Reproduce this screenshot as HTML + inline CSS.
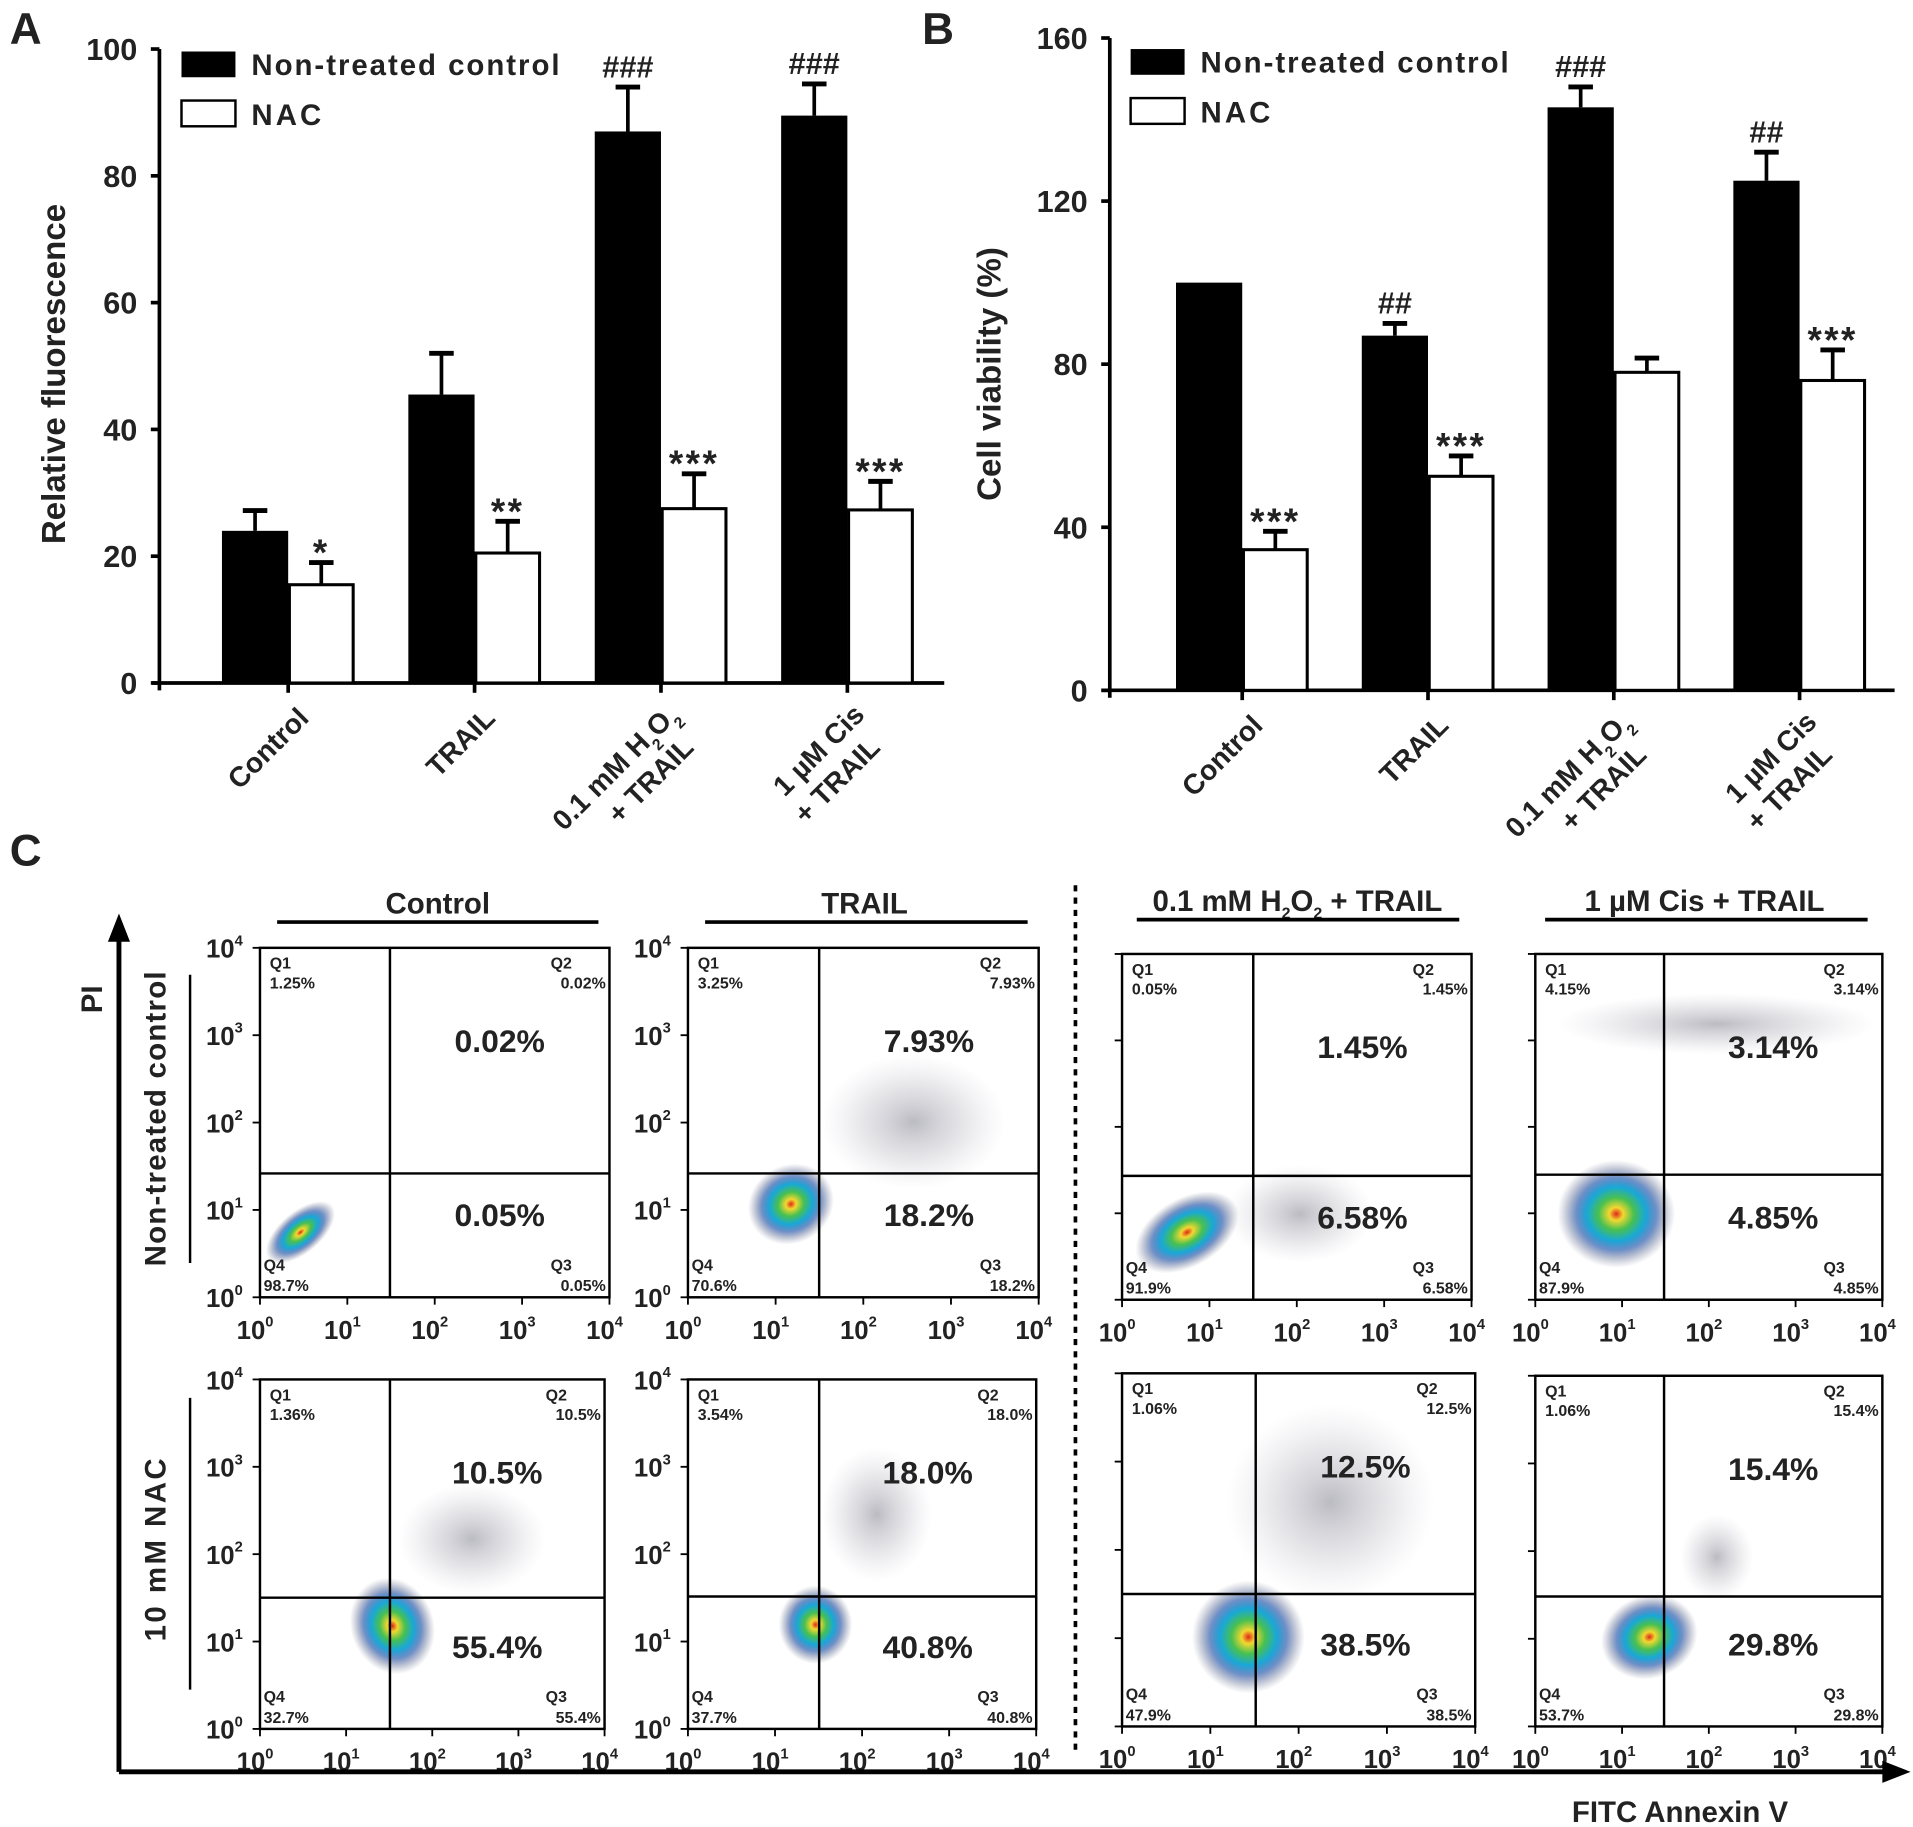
<!DOCTYPE html>
<html><head><meta charset="utf-8">
<style>
html,body{margin:0;padding:0;background:#fff;}
svg{display:block;font-family:"Liberation Sans Narrow","Liberation Sans",Arial,sans-serif;}
text{font-weight:bold;fill:#222;}
</style></head>
<body>
<svg id="fig" width="1913" height="1827" viewBox="0 0 1560 1490" preserveAspectRatio="none" xmlns="http://www.w3.org/2000/svg">
<defs>
<radialGradient id="dens" cx="50%" cy="50%" r="50%">
<stop offset="0" stop-color="#e02818"/>
<stop offset="0.12" stop-color="#f2d830"/>
<stop offset="0.3" stop-color="#48c050"/>
<stop offset="0.5" stop-color="#18a8d8"/>
<stop offset="0.68" stop-color="#3060b0" stop-opacity="0.7"/>
<stop offset="0.85" stop-color="#405080" stop-opacity="0.3"/>
<stop offset="1" stop-color="#606880" stop-opacity="0"/>
</radialGradient>
<radialGradient id="haze" cx="50%" cy="50%" r="50%">
<stop offset="0" stop-color="#556" stop-opacity="0.4"/>
<stop offset="0.6" stop-color="#889" stop-opacity="0.18"/>
<stop offset="1" stop-color="#aab" stop-opacity="0"/>
</radialGradient>
</defs>
<g id="root"></g>
</svg>
<script>
// ---- Panel A data ----
const catsA = ["Control","TRAIL","0.1 mM H2O2 + TRAIL","1 µM Cis + TRAIL"];
const ctrlA = [24, 45.5, 87, 89.5];
const ctrlErrA = [3.2, 6.5, 7, 5];
const nacA = [15.5, 20.5, 27.5, 27.3];
const nacErrA = [3.5, 5, 5.5, 4.5];
const sigCtrlA = ["", "", "###", "###"];
const sigNacA = ["*", "**", "***", "***"];
const ticksA = [0, 20, 40, 60, 80, 100];
// ---- Panel B data ----
const ctrlB = [100, 87, 143, 125];
const ctrlErrB = [0, 3, 5, 7];
const nacB = [34.5, 52.5, 78, 76];
const nacErrB = [4.5, 5, 3.5, 7.5];
const sigCtrlB = ["", "##", "###", "##"];
const sigNacB = ["***", "***", "", "***"];
const ticksB = [0, 40, 80, 120, 160];
// ---- Panel C data (quadrant %: Q1,Q2,Q3,Q4) ----
const q1Vals = ["1.25%","3.25%","0.05%","4.15%","1.36%","3.54%","1.06%","1.06%"];
const q2Vals = ["0.02%","7.93%","1.45%","3.14%","10.5%","18.0%","12.5%","15.4%"];
const q3Vals = ["0.05%","18.2%","6.58%","4.85%","55.4%","40.8%","38.5%","29.8%"];
const q4Vals = ["98.7%","70.6%","91.9%","87.9%","32.7%","37.7%","47.9%","53.7%"];
const colTitles = ["Control","TRAIL","0.1 mM H₂O₂ + TRAIL","1 µM Cis + TRAIL"];
const decades = [0,1,2,3,4];

const NS="http://www.w3.org/2000/svg";
const root=document.getElementById('root');
function mk(tag,attrs,parent){const e=document.createElementNS(NS,tag);for(const k in attrs)e.setAttribute(k,attrs[k]);(parent||root).appendChild(e);return e;}
function txt(s,attrs,parent){const e=mk('text',attrs,parent);e.textContent=s;return e;}

function barPanel(o){
  const g=mk('g',{});
  
  
  const y=v=>o.y0-(v-0)*(o.y0-o.yTop)/o.vmax;
  const cx=i=>o.c0+i*o.step;
  const ya=mk('line',{x1:o.ax,y1:o.yTop,x2:o.ax,y2:o.y0+6,stroke:'#000','stroke-width':3},g);
  
  
  const xa=mk('line',{x1:o.ax-6,y1:o.y0,x2:o.xEnd,y2:o.y0,stroke:'#000','stroke-width':3},g);
  
  
  o.ticks.forEach(t=>{
    mk('line',{x1:o.ax-7,y1:y(t),x2:o.ax,y2:y(t),stroke:'#000','stroke-width':3},g);
    const tl=txt(String(t),{x:o.ax-18,y:y(t)+9,'text-anchor':'end','font-size':25},g);
    
    
  });
  const bw=o.bw;
  o.ctrl.forEach((v,i)=>{
    const x=cx(i);
    mk('line',{x1:x,y1:o.y0,x2:x,y2:o.y0+8,stroke:'#000','stroke-width':3},g);
    const t1=o.ctrl[i]+o.ctrlErr[i], t2=o.nac[i]+o.nacErr[i];
    if(o.ctrlErr[i]>0){
      mk('line',{x1:x-bw/2,y1:y(v),x2:x-bw/2,y2:y(t1),stroke:'#000','stroke-width':3},g);
      mk('line',{x1:x-bw/2-10,y1:y(t1),x2:x-bw/2+10,y2:y(t1),stroke:'#000','stroke-width':4},g);
    }
    const b=mk('rect',{x:x-bw,y:y(v),width:bw,height:o.y0-y(v),fill:'#000'},g);
    
    
    mk('line',{x1:x+bw/2,y1:y(o.nac[i]),x2:x+bw/2,y2:y(t2),stroke:'#000','stroke-width':3},g);
    mk('line',{x1:x+bw/2-10,y1:y(t2),x2:x+bw/2+10,y2:y(t2),stroke:'#000','stroke-width':4},g);
    const b2=mk('rect',{x:x+1,y:y(o.nac[i]),width:bw-2,height:o.y0-y(o.nac[i]),fill:'#fff',stroke:'#000','stroke-width':2.5},g);
    
    
    if(o.sigC[i]){const s=txt(o.sigC[i],{x:x-bw/2,y:y(t1)-8,'text-anchor':'middle','font-size':25,'font-weight':'normal'},g);
      
      }
    if(o.sigN[i]){const s=txt(o.sigN[i],{x:x+bw/2,y:y(t2)+2,'text-anchor':'middle','font-size':30,'font-weight':'normal','letter-spacing':2},g);
      
      }
    const lg=mk('g',{transform:`translate(${x+18},${o.y0+30}) rotate(-45)`},g);
    
    
    if(i<2){txt(o.cats[i],{x:0,y:0,'text-anchor':'end','font-size':23},lg);}
    else if(i==2){
      const a=txt('',{x:0,y:-4,'text-anchor':'end','font-size':23},lg);
      a.innerHTML='0.1 mM H<tspan font-size="13" dy="8">2</tspan><tspan dy="-8">O</tspan><tspan font-size="13" dy="8">2</tspan>';
      txt('+ TRAIL',{x:-10,y:24,'text-anchor':'end','font-size':23},lg);
    } else {
      txt('1 µM Cis',{x:0,y:-4,'text-anchor':'end','font-size':23},lg);
      txt('+ TRAIL',{x:-10,y:24,'text-anchor':'end','font-size':23},lg);
    }
  });
  const l1=mk('rect',{x:o.lx,y:o.ly,width:44,height:21,fill:'#000'},g);
  
  
  const lt1=txt('Non-treated control',{x:o.lx+57,y:o.ly+19,'font-size':24,'letter-spacing':1.6},g);
  
  
  const l2=mk('rect',{x:o.lx,y:o.ly+40,width:44,height:21,fill:'#fff',stroke:'#000','stroke-width':2},g);
  
  
  const lt2=txt('NAC',{x:o.lx+57,y:o.ly+60,'font-size':24,'letter-spacing':2.5},g);
  
  
  const yt=txt(o.ytitle,{x:0,y:0,'text-anchor':'middle','font-size':27,transform:`translate(${o.ytx},${o.yty}) rotate(-90)`,'font-family':'Liberation Sans, Arial, sans-serif'},g);
  
  
}

barPanel({name:'panel-a-chart',ax:130,yTop:40,y0:557,vmax:100,xEnd:770,c0:235,step:152,bw:54,
  ctrl:ctrlA,ctrlErr:ctrlErrA,nac:nacA,nacErr:nacErrA,sigC:sigCtrlA,sigN:sigNacA,ticks:ticksA,cats:catsA,
  lx:148,ly:42,ytitle:'Relative fluorescence',ytx:53,yty:305});
barPanel({name:'panel-b-chart',ax:905,yTop:31,y0:563,vmax:160,xEnd:1545,c0:1013,step:151.5,bw:54,
  ctrl:ctrlB,ctrlErr:ctrlErrB,nac:nacB,nacErr:nacErrB,sigC:sigCtrlB,sigN:sigNacB,ticks:ticksB,cats:catsA,
  lx:922,ly:40,ytitle:'Cell viability (%)',ytx:816,yty:305});

[['A',8,36],['B',752,36],['C',8,706]].forEach(p=>{
  const t=txt(p[0],{x:p[1],y:p[2],'font-size':36,'font-family':'Liberation Sans, Arial, sans-serif'});
  
  
});

const plots=[
 {x0:212,x1:497,y0:773,y1:1058,gx:318,gy:957,yl:true,blob:[245,1005,34,17,-40],hz:null},
 {x0:561,x1:847,y0:773,y1:1058,gx:668,gy:957,yl:true,blob:[645,982,36,32,-30],hz:[745,915,75,55]},
 {x0:915,x1:1200,y0:778,y1:1060,gx:1022,gy:959,yl:false,blob:[968,1005,46,28,-30],hz:[1060,990,60,40]},
 {x0:1252,x1:1535,y0:778,y1:1060,gx:1357,gy:958,yl:false,blob:[1318,990,48,44,0],hz:[1400,835,130,25]},
 {x0:212,x1:493,y0:1125,y1:1410,gx:318,gy:1303,yl:true,blob:[320,1326,34,40,-20],hz:[385,1255,60,45]},
 {x0:561,x1:845,y0:1125,y1:1410,gx:668,gy:1302,yl:true,blob:[665,1325,30,32,0],hz:[715,1235,45,55]},
 {x0:915,x1:1203,y0:1120,y1:1408,gx:1024,gy:1300,yl:false,blob:[1018,1335,46,46,0],hz:[1085,1225,85,80]},
 {x0:1252,x1:1535,y0:1122,y1:1408,gx:1357,gy:1302,yl:false,blob:[1345,1335,40,34,-20],hz:[1400,1270,30,35]},
];
plots.forEach((p,i)=>{
  const g=mk('g',{});
  
  
  if(p.hz){mk('ellipse',{cx:p.hz[0],cy:p.hz[1],rx:p.hz[2],ry:p.hz[3],fill:'url(#haze)'},g);}
  const b=p.blob;
  const bl=mk('ellipse',{cx:b[0],cy:b[1],rx:b[2],ry:b[3],fill:'url(#dens)',transform:`rotate(${b[4]} ${b[0]} ${b[1]})`},g);
  
  
  mk('rect',{x:p.x0,y:p.y0,width:p.x1-p.x0,height:p.y1-p.y0,fill:'none',stroke:'#000','stroke-width':2},g);
  mk('line',{x1:p.gx,y1:p.y0,x2:p.gx,y2:p.y1,stroke:'#000','stroke-width':2},g);
  mk('line',{x1:p.x0,y1:p.gy,x2:p.x1,y2:p.gy,stroke:'#000','stroke-width':2},g);
  decades.forEach(d=>{
    const yy=p.y1-d*(p.y1-p.y0)/4, xx=p.x0+d*(p.x1-p.x0)/4;
    mk('line',{x1:p.x0-6,y1:yy,x2:p.x0,y2:yy,stroke:'#000','stroke-width':1.5},g);
    mk('line',{x1:xx,y1:p.y1,x2:xx,y2:p.y1+6,stroke:'#000','stroke-width':1.5},g);
    const xl=txt('',{x:xx-4,y:p.y1+34,'text-anchor':'middle','font-size':21},g);
    xl.innerHTML='10<tspan font-size="12" dy="-10">'+d+'</tspan>';
    
    
    if(p.yl){const yl=txt('',{x:p.x0-14,y:yy+8,'text-anchor':'end','font-size':21},g);
      yl.innerHTML='10<tspan font-size="12" dy="-10">'+d+'</tspan>';
      
      }
  });
  const sf={'font-size':13,'font-weight':'normal'};
  txt('Q1',Object.assign({x:p.x0+8,y:p.y0+17},sf),g); txt(q1Vals[i],Object.assign({x:p.x0+8,y:p.y0+33},sf),g);
  txt('Q2',Object.assign({x:p.x1-48,y:p.y0+17},sf),g); txt(q2Vals[i],Object.assign({x:p.x1-3,y:p.y0+33,'text-anchor':'end'},sf),g);
  txt('Q3',Object.assign({x:p.x1-48,y:p.y1-22},sf),g); txt(q3Vals[i],Object.assign({x:p.x1-3,y:p.y1-5,'text-anchor':'end'},sf),g);
  txt('Q4',Object.assign({x:p.x0+3,y:p.y1-22},sf),g); txt(q4Vals[i],Object.assign({x:p.x0+3,y:p.y1-5},sf),g);
  const mx=(p.gx+p.x1)/2;
  const big2=txt(q2Vals[i],{x:mx,y:p.y0+85,'text-anchor':'middle','font-size':26},g);
  
  
  const big3=txt(q3Vals[i],{x:mx,y:p.y1-58,'text-anchor':'middle','font-size':26},g);
  
  
});
[[357,226,488,752],[705,575,838,752],[1058,927,1190,750],[1390,1260,1523,750]].forEach((c,i)=>{
  const t=txt('',{x:c[0],y:c[3]-7,'text-anchor':'middle','font-size':24,'font-family':'Liberation Sans, Arial, sans-serif'});
  if(i==2) t.innerHTML='0.1 mM H<tspan font-size="13" dy="6">2</tspan><tspan dy="-6">O</tspan><tspan font-size="13" dy="6">2</tspan><tspan dy="-6"> + TRAIL</tspan>';
  else t.textContent=colTitles[i];
  
  
  mk('line',{x1:c[1],y1:c[3],x2:c[2],y2:c[3],stroke:'#000','stroke-width':3});
});
const sep=mk('line',{x1:877,y1:722,x2:877,y2:1432,stroke:'#000','stroke-width':3,'stroke-dasharray':'5,5'});


const pa=mk('line',{x1:97,y1:1445,x2:97,y2:765,stroke:'#000','stroke-width':4});


mk('polygon',{points:'97,745 88,768 106,768',fill:'#000'});
const fa=mk('line',{x1:97,y1:1445,x2:1538,y2:1445,stroke:'#000','stroke-width':4});


mk('polygon',{points:'1558,1445 1535,1436 1535,1454',fill:'#000'});
const pit=txt('PI',{x:0,y:0,'text-anchor':'middle','font-size':24,transform:'translate(83,815) rotate(-90)','font-family':'Liberation Sans, Arial, sans-serif'});


const ft=txt('FITC Annexin V',{x:1370,y:1486,'text-anchor':'middle','font-size':24,'font-family':'Liberation Sans, Arial, sans-serif'});


const r1=txt('Non-treated control',{x:0,y:0,'text-anchor':'middle','font-size':24,'letter-spacing':1,transform:'translate(135,912) rotate(-90)','font-family':'Liberation Sans, Arial, sans-serif'});


mk('line',{x1:155,y1:795,x2:155,y2:1030,stroke:'#000','stroke-width':2});
const r2=txt('10 mM NAC',{x:0,y:0,'text-anchor':'middle','font-size':24,'letter-spacing':2,transform:'translate(135,1263) rotate(-90)','font-family':'Liberation Sans, Arial, sans-serif'});


mk('line',{x1:155,y1:1140,x2:155,y2:1378,stroke:'#000','stroke-width':2});
</script>
</body></html>
